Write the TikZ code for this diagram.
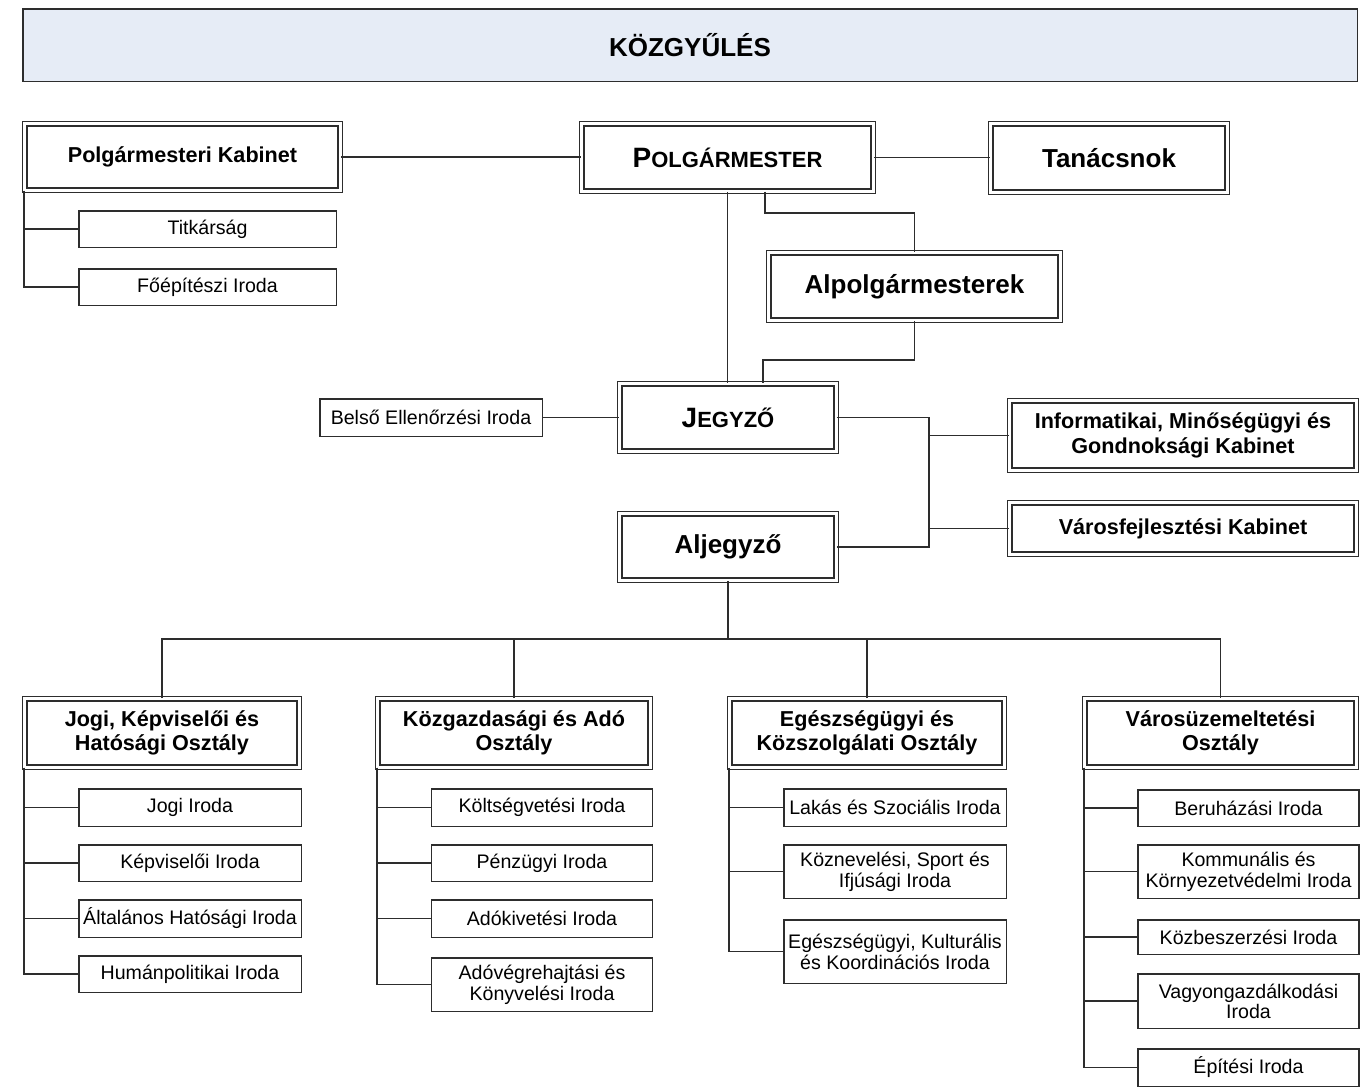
\documentclass[tikz,border=0pt]{standalone}
\usepackage{fontspec}
\setmainfont{Liberation Sans}
\definecolor{kozgyfill}{RGB}{230,236,246}
\definecolor{linegray}{RGB}{45,45,45}
\tikzset{
  dbox/.style={draw=linegray, double, double distance=1.5pt, line width=0.7pt, inner sep=0pt, align=center,
    minimum height=33.6pt, font=\bfseries\fontsize{10.8}{12.2}\selectfont},
  bigtext/.style={font=\bfseries\fontsize{13}{15}\selectfont},
  sbox/.style={draw=linegray, line width=0.75pt, inner sep=0pt, align=center,
    minimum width=110.5pt, minimum height=18.75pt, font=\fontsize{9.8}{10.5}\selectfont},
  conn/.style={draw=linegray, line width=0.75pt}
}
\newcommand{\scfirst}[2]{{\fontsize{14}{15}\selectfont #1}{\fontsize{11}{15}\selectfont #2}}
\begin{document}
\begin{tikzpicture}[x=0.5pt,y=-0.5pt]
    \useasboundingbox (0,0) rectangle (1360,1089);
    \node[draw=linegray, line width=0.75pt, fill=kozgyfill, minimum width=667.25pt, minimum height=36.25pt, bigtext] (kozgy) at (690,45) {KÖZGYŰLÉS};
    % felső szint
    \node[dbox, minimum width=157.6pt, minimum height=33.1pt] (kabinet) at (182.5,157) {Polgármesteri Kabinet};
    \node[dbox, bigtext, minimum width=145.6pt] (polg) at (727.5,157.5) {\scfirst{P}{OLGÁRMESTER}};
    \node[dbox, bigtext, minimum width=118.1pt, minimum height=34.1pt] (tanacs) at (1109,158) {Tanácsnok};
    \node[sbox, minimum width=128.75pt, minimum height=18.25pt] (titkar) at (207.5,229) {Titkárság};
    \node[sbox, minimum width=128.75pt, minimum height=18.25pt] (foep) at (207.5,287) {Főépítészi Iroda};
    \node[dbox, bigtext, minimum width=145.6pt] (alpolg) at (914.5,286.5) {Alpolgármesterek};
    % jegyző
    \node[dbox, bigtext, minimum width=108.1pt] (jegyzo) at (728,417.5) {\scfirst{J}{EGYZŐ}};
    \node[sbox, minimum width=111.25pt] (belso) at (431,417.5) {Belső Ellenőrzési Iroda};
    \node[dbox, bigtext, minimum width=108.1pt, minimum height=33.1pt] (aljegyzo) at (728,547) {Aljegyző};
    \node[dbox, minimum width=173.1pt, minimum height=34.6pt] (info) at (1183,435.5) {Informatikai, Minőségügyi és\\Gondnoksági Kabinet};
    \node[dbox, minimum width=173.1pt, minimum height=25.6pt] (varos) at (1183,528.5) {Városfejlesztési Kabinet};
    % osztályok
    \node[dbox, minimum width=137.1pt, minimum height=34.1pt] (dept1) at (162,733) {Jogi, Képviselői és\\Hatósági Osztály};
    \node[dbox, minimum width=136.1pt, minimum height=34.1pt] (dept2) at (514,733) {Közgazdasági és Adó\\Osztály};
    \node[dbox, minimum width=137.1pt, minimum height=34.1pt] (dept3) at (867,733) {Egészségügyi és\\Közszolgálati Osztály};
    \node[dbox, minimum width=135.6pt, minimum height=34.1pt] (dept4) at (1220.5,733) {Városüzemeltetési\\Osztály};
    % irodák
    \node[sbox, minimum width=111.25pt] (jogi) at (190,807.5) {Jogi Iroda};
    \node[sbox, minimum width=111.25pt, minimum height=18.25pt] (kepv) at (190,863) {Képviselői Iroda};
    \node[sbox, minimum width=111.25pt] (altal) at (190,918.5) {Általános Hatósági Iroda};
    \node[sbox, minimum width=111.25pt, minimum height=18.25pt] (human) at (190,974) {Humánpolitikai Iroda};
    \node[sbox] (kolts) at (542,807.5) {Költségvetési Iroda};
    \node[sbox, minimum height=18.25pt] (penz) at (542,863) {Pénzügyi Iroda};
    \node[sbox] (adokiv) at (542,918.5) {Adókivetési Iroda};
    \node[sbox, minimum height=26.75pt] (adoveg) at (542,984.5) {Adóvégrehajtási és\\Könyvelési Iroda};
    \node[sbox, minimum width=111.25pt] (lakas) at (895,807.5) {Lakás és Szociális Iroda};
    \node[sbox, minimum width=111.25pt, minimum height=26.75pt] (kozn) at (895,871.5) {Köznevelési, Sport és\\Ifjúsági Iroda};
    \node[sbox, minimum width=111.25pt, minimum height=31.75pt] (egesz) at (895,951.5) {Egészségügyi, Kulturális\\és Koordinációs Iroda};
    \node[sbox, minimum height=18.25pt] (beruh) at (1248.5,808) {Beruházási Iroda};
    \node[sbox, minimum height=26.75pt] (komm) at (1248.5,871.5) {Kommunális és\\Környezetvédelmi Iroda};
    \node[sbox, minimum height=17.25pt] (kozbesz) at (1248.5,937) {Közbeszerzési Iroda};
    \node[sbox, minimum height=27.25pt, font=\fontsize{9.8}{9}\selectfont] (vagyon) at (1248.5,1001) {Vagyongazdálkodási\\Iroda};
    \node[sbox] (epit) at (1248.5,1067.5) {Építési Iroda};
    % vonalak
    \draw[conn] (kabinet.east) -- (kabinet.east -| polg.west);
    \draw[conn] (polg.east) -- (polg.east -| tanacs.west);
    \draw[conn] (kabinet.south west) |- (titkar.west);
    \draw[conn] (kabinet.south west) |- (foep.west);
    \draw[conn] (polg.south) -- (polg.south |- jegyzo.north);
    \coordinate (pa) at (765,213);
    \draw[conn] (polg.south -| pa) -- (pa) -| (alpolg.north);
    \coordinate (aj) at (763,360);
    \draw[conn] (alpolg.south) |- (aj) -- (aj |- jegyzo.north);
    \draw[conn] (belso.east) -- (jegyzo.west);
    \coordinate (jb) at (929,417);
    \draw[conn] (jegyzo.east) -| (jb |- aljegyzo.east) -- (aljegyzo.east);
    \draw[conn] (info.west) -- (info.west -| jb);
    \draw[conn] (varos.west) -- (varos.west -| jb);
    \coordinate (bus) at (728,639);
    \draw[conn] (aljegyzo.south) -- (aljegyzo.south |- bus);
    \draw[conn] (dept1.north) |- (bus) -| (dept4.north);
    \draw[conn] (dept2.north) -- (dept2.north |- bus);
    \draw[conn] (dept3.north) -- (dept3.north |- bus);
    \draw[conn] (dept1.south west) |- (jogi.west);
    \draw[conn] (dept1.south west) |- (kepv.west);
    \draw[conn] (dept1.south west) |- (altal.west);
    \draw[conn] (dept1.south west) |- (human.west);
    \draw[conn] (dept2.south west) |- (kolts.west);
    \draw[conn] (dept2.south west) |- (penz.west);
    \draw[conn] (dept2.south west) |- (adokiv.west);
    \draw[conn] (dept2.south west) |- (adoveg.west);
    \draw[conn] (dept3.south west) |- (lakas.west);
    \draw[conn] (dept3.south west) |- (kozn.west);
    \draw[conn] (dept3.south west) |- (egesz.west);
    \draw[conn] (dept4.south west) |- (beruh.west);
    \draw[conn] (dept4.south west) |- (komm.west);
    \draw[conn] (dept4.south west) |- (kozbesz.west);
    \draw[conn] (dept4.south west) |- (vagyon.west);
    \draw[conn] (dept4.south west) |- (epit.west);
\end{tikzpicture}
\end{document}
